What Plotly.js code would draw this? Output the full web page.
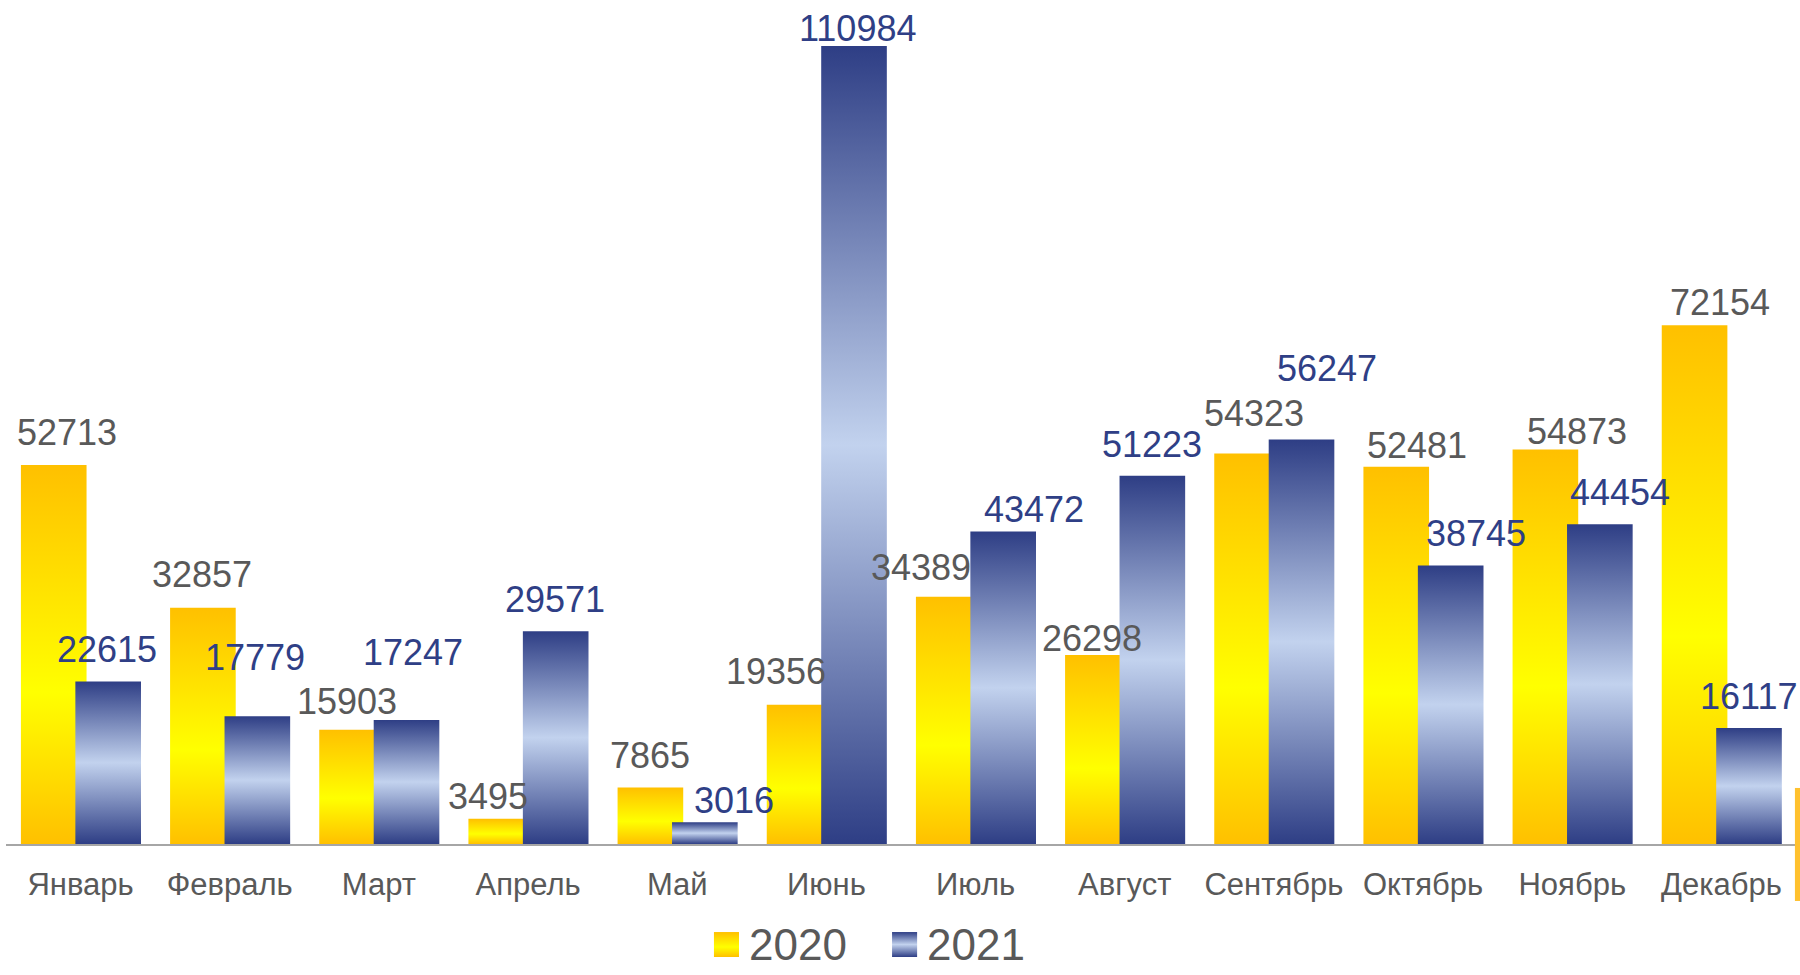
<!DOCTYPE html>
<html>
<head>
<meta charset="utf-8">
<script src="https://cdn.plot.ly/plotly-3.0.1.min.js"></script>
<style>html,body{margin:0;padding:0;background:#fff;}#chart{width:1800px;height:975px;}</style>
</head>
<body>
<div id="chart"></div>
<script>
// ---- data ----
const months = ["Январь","Февраль","Март","Апрель","Май","Июнь","Июль","Август","Сентябрь","Октябрь","Ноябрь","Декабрь"];
const values2020 = [52713,32857,15903,3495,7865,19356,34389,26298,54323,52481,54873,72154];
const values2021 = [22615,17779,17247,29571,3016,110984,43472,51223,56247,38745,44454,16117];
const seriesNames = ["2020","2021"];

// ---- label placement tweaks (pixels) ----
const nudgeX2020 = [13,-1,-5,-13,0,-24,-28,-6,7,21,32,25];
const gap2020    = [32,33,28,22,32,33,29,16,40,21,18,23];
const nudgeX2021 = [-1,-2,6,-1,29,3,31,0,25,25,20,-1];
const gap2021    = [32,59,67,32,22,17,22,31,71,32,32,32];

const W = 0.44, OFF20 = -0.40, OFF21 = -0.035;
const labelFont = 'Arial, "Liberation Sans", sans-serif';

const grads = [
  {id:'grad2020', stops:[[0,'#FFC000'],[0.6,'#FFFF00'],[1,'#FFC000']]},
  {id:'grad2021', stops:[[0,'#2E3E85'],[0.5,'#C2D2EE'],[1,'#2E3E85']]}
];

const traces = [
  {type:'bar', name:seriesNames[0], x:months, y:values2020, width:W, offset:OFF20,
   marker:{color:'#FFD800', line:{width:0}}, hoverinfo:'x+y', showlegend:false},
  {type:'bar', name:seriesNames[1], x:months, y:values2021, width:W, offset:OFF21,
   marker:{color:'#6B7AB5', line:{width:0}}, hoverinfo:'x+y', showlegend:false}
];

const annotations = [];
months.forEach((m,i)=>{
  annotations.push({x:i+OFF20+W/2, y:values2020[i], xref:'x', yref:'y', text:String(values2020[i]),
    showarrow:false, yanchor:'middle', xanchor:'center', xshift:nudgeX2020[i], yshift:gap2020[i],
    font:{family:labelFont, size:36, color:'#595959'}});
  annotations.push({x:i+OFF21+W/2, y:values2021[i], xref:'x', yref:'y', text:String(values2021[i]),
    showarrow:false, yanchor:'middle', xanchor:'center', xshift:nudgeX2021[i], yshift:gap2021[i],
    font:{family:labelFont, size:36, color:'#2F3F86'}});
});

// manual legend (text as annotations, swatches as shapes)
const legendText = [
  {x:0.4145, name:seriesNames[0]},
  {x:0.5140, name:seriesNames[1]}
];
legendText.forEach(l=>{
  annotations.push({xref:'paper', yref:'paper', x:l.x, y:-0.1185, xanchor:'left', yanchor:'middle',
    text:l.name, showarrow:false, borderpad:0, font:{family:labelFont, size:44, color:'#595959'}});
});

const shapes = [
  {type:'rect', xref:'paper', yref:'paper', x0:0.9994, x1:1.003, y0:-0.0675, y1:0.0664,
    fillcolor:'#FFC12E', line:{width:0}, layer:'above'},
  {type:'rect', xref:'paper', yref:'paper', x0:0.3955, x1:0.4095, y0:-0.1339, y1:-0.1043,
    fillcolor:'#FFD800', line:{width:0}, layer:'above'},
  {type:'rect', xref:'paper', yref:'paper', x0:0.4950, x1:0.5090, y0:-0.1339, y1:-0.1043,
    fillcolor:'#6B7AB5', line:{width:0}, layer:'above'}
];

const layout = {
  width:1800, height:975,
  margin:{l:6, r:4, t:0, b:131, autoexpand:false},
  paper_bgcolor:'#ffffff', plot_bgcolor:'#ffffff',
  barmode:'overlay',
  showlegend:false,
  xaxis:{type:'category', showline:true, linecolor:'#A6A6A6', linewidth:2, ticks:'',
    showgrid:false, zeroline:false, ticklabelstandoff:12, automargin:false,
    tickfont:{family:labelFont, size:31, color:'#595959'}, range:[-0.5,11.5], fixedrange:true},
  yaxis:{visible:false, range:[0,117380], showgrid:false, zeroline:false, fixedrange:true, automargin:false},
  annotations:annotations,
  shapes:shapes
};

function applyGradients(gd){
  const NS = 'http://www.w3.org/2000/svg';
  const svg = gd.querySelector('.main-svg');
  let defs = svg.querySelector('defs');
  if(!defs){ defs = document.createElementNS(NS,'defs'); svg.insertBefore(defs, svg.firstChild); }
  grads.forEach(g=>{
    if(defs.querySelector('#'+g.id)) return;
    const lg = document.createElementNS(NS,'linearGradient');
    lg.setAttribute('id', g.id);
    lg.setAttribute('x1','0'); lg.setAttribute('y1','0'); lg.setAttribute('x2','0'); lg.setAttribute('y2','1');
    g.stops.forEach(s=>{
      const st = document.createElementNS(NS,'stop');
      st.setAttribute('offset', s[0]); st.setAttribute('stop-color', s[1]);
      lg.appendChild(st);
    });
    defs.appendChild(lg);
  });
  gd.querySelectorAll('.barlayer .trace.bars').forEach((t,i)=>{
    t.querySelectorAll('path').forEach(p=>{ p.style.fill = 'url(#'+grads[i].id+')'; });
  });
  // legend swatches = shapes 1 and 2
  [1,2].forEach((idx,i)=>{
    gd.querySelectorAll('.shapelayer path[data-index="'+idx+'"]').forEach(p=>{
      p.style.fill = 'url(#'+grads[i].id+')';
    });
  });
}

const gd = document.getElementById('chart');
Plotly.newPlot(gd, traces, layout, {displayModeBar:false, staticPlot:true}).then(()=>applyGradients(gd));
</script>
</body>
</html>
